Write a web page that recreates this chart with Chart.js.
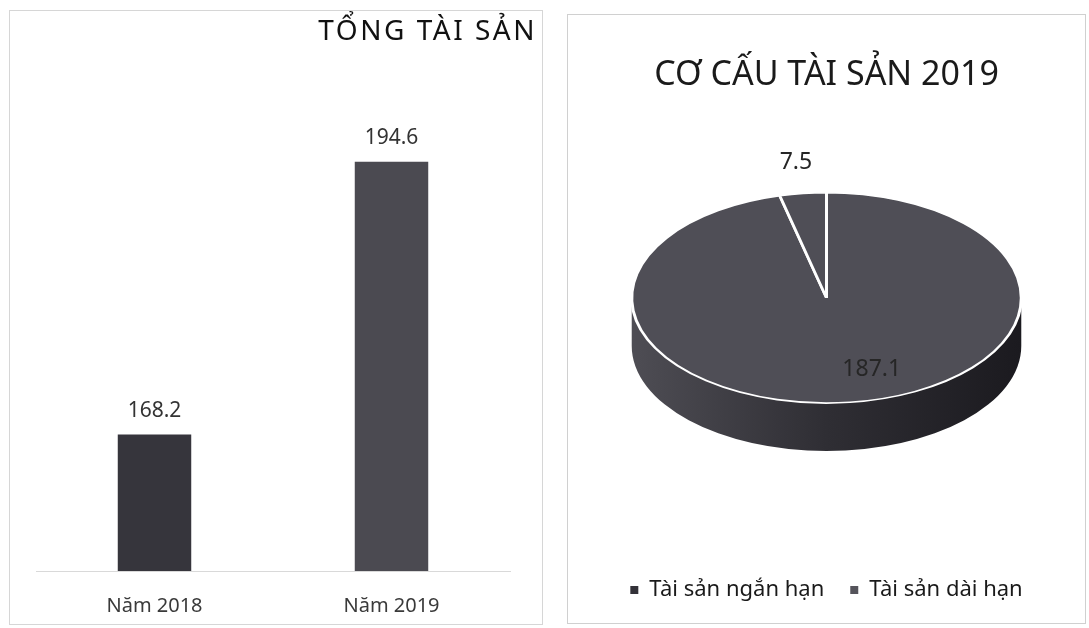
<!DOCTYPE html>
<html>
<head>
<meta charset="utf-8">
<script src="https://cdn.jsdelivr.net/npm/chart.js@4.4.0/dist/chart.umd.min.js"></script>
<style>
  html, body { margin:0; padding:0; background:#ffffff; width:1089px; height:628px; overflow:hidden; }
  #left  { position:absolute; left:9px;  top:10px; width:534px; height:615px; box-sizing:border-box; border:1px solid #d6d6d6; }
  #right { position:absolute; left:567px; top:14px; width:519px; height:610px; box-sizing:border-box; border:1px solid #d0d0d0; }
</style>
</head>
<body>
<div id="left"><canvas id="bar"></canvas></div>
<div id="right"><canvas id="pie"></canvas></div>
<script>
// ---------- data ----------
const barTitle = 'TỔNG TÀI SẢN';
const barCategories = ['Năm 2018', 'Năm 2019'];
const barValues = [168.2, 194.6];
const barAxisMin = 155;
const barAxisMax = 200;

const pieTitle = 'CƠ CẤU TÀI SẢN 2019';
const pieCategories = ['Tài sản ngắn hạn', 'Tài sản dài hạn'];
const pieValues = [187.1, 7.5];

const FONT = "'Noto Sans', 'DejaVu Sans', sans-serif";

// ---------- plugins ----------
const cornerTitle = {
  id: 'cornerTitle',
  afterDraw(chart, args, opts) {
    const ctx = chart.ctx;
    ctx.save();
    ctx.font = opts.size + 'px ' + FONT;
    if ('letterSpacing' in ctx) ctx.letterSpacing = opts.spacing + 'px';
    ctx.fillStyle = opts.color;
    ctx.textAlign = 'right';
    ctx.textBaseline = 'middle';
    ctx.fillText(opts.text, chart.width - opts.right, opts.y);
    ctx.restore();
  }
};

const barLabels = {
  id: 'barLabels',
  afterDatasetsDraw(chart, args, opts) {
    const ctx = chart.ctx;
    const meta = chart.getDatasetMeta(0);
    const vals = chart.data.datasets[0].data;
    ctx.save();
    ctx.font = opts.size + 'px ' + FONT;
    ctx.fillStyle = opts.color;
    ctx.textAlign = 'center';
    ctx.textBaseline = 'middle';
    meta.data.forEach((el, i) => ctx.fillText(vals[i].toFixed(1), el.x, el.y - opts.offset));
    ctx.restore();
  }
};

const pie3d = {
  id: 'pie3d',
  beforeDatasetsDraw(chart, args, opts) {
    const meta = chart.getDatasetMeta(0);
    const a0 = meta.data[0];
    const cx = a0.x, cy = a0.y + opts.shiftY, R = a0.outerRadius, ry = R * opts.tilt;
    const ctx = chart.ctx;
    const g = ctx.createLinearGradient(cx - R, 0, cx + R, 0);
    g.addColorStop(0, opts.sideLeft);
    g.addColorStop(0.5, opts.sideMid);
    g.addColorStop(1, opts.sideRight);
    meta.data.forEach(arc => {
      for (const k of [-1, 0, 1]) {
        const s = Math.max(arc.startAngle + k * 2 * Math.PI, 0);
        const e = Math.min(arc.endAngle + k * 2 * Math.PI, Math.PI);
        if (e > s) {
          ctx.save();
          ctx.beginPath();
          ctx.ellipse(cx, cy, R, ry, 0, s, e, false);
          ctx.ellipse(cx, cy + opts.depth, R, ry, 0, e, s, true);
          ctx.closePath();
          ctx.fillStyle = g;
          ctx.fill();
          ctx.restore();
        }
      }
    });
    ctx.save();
    ctx.translate(cx, cy);
    ctx.scale(1, opts.tilt);
    ctx.translate(-a0.x, -a0.y);
  },
  afterDatasetsDraw(chart) {
    chart.ctx.restore();
  }
};

const pieLabels = {
  id: 'pieLabels',
  afterDraw(chart, args, opts) {
    const meta = chart.getDatasetMeta(0);
    const tilt = chart.options.plugins.pie3d.tilt;
    const shiftY = chart.options.plugins.pie3d.shiftY;
    const vals = chart.data.datasets[0].data;
    const ctx = chart.ctx;
    ctx.save();
    ctx.font = opts.size + 'px ' + FONT;
    ctx.fillStyle = opts.color;
    ctx.textAlign = 'center';
    ctx.textBaseline = 'middle';
    meta.data.forEach((arc, i) => {
      const mid = (arc.startAngle + arc.endAngle) / 2;
      const f = opts.radius[i];
      const x = arc.x + Math.cos(mid) * arc.outerRadius * f + opts.dx[i];
      const y = arc.y + shiftY + Math.sin(mid) * arc.outerRadius * tilt * f;
      ctx.fillText(vals[i].toFixed(1), x, y);
    });
    ctx.restore();
  }
};

// ---------- bar chart ----------
new Chart(document.getElementById('bar'), {
  type: 'bar',
  data: {
    labels: barCategories,
    datasets: [{
      data: barValues,
      backgroundColor: ['#36353c', '#4b4a51'],
      borderWidth: 0,
      barPercentage: 0.31,
      categoryPercentage: 1.0
    }]
  },
  options: {
    responsive: true,
    maintainAspectRatio: false,
    animation: false,
    layout: { padding: { left: 26, right: 32, top: 95, bottom: 8 } },
    scales: {
      x: {
        grid: { display: false, drawTicks: false },
        border: { display: true, color: '#d9d9d9', width: 1 },
        ticks: { color: '#3a3a3a', padding: 23, maxRotation: 0, font: { family: FONT, size: 20 } },
        afterFit(scale) { scale.height = 45; }
      },
      y: {
        display: false,
        min: barAxisMin,
        max: barAxisMax
      }
    },
    plugins: {
      legend: { display: false },
      tooltip: { enabled: false },
      cornerTitle: { text: barTitle, size: 28, spacing: 2.5, color: '#111111', right: 5, y: 21 },
      barLabels: { size: 21, color: '#333333', offset: 24 }
    }
  },
  plugins: [cornerTitle, barLabels]
});

// ---------- 3D-style pie ----------
new Chart(document.getElementById('pie'), {
  type: 'pie',
  data: {
    labels: pieCategories,
    datasets: [{
      data: pieValues,
      backgroundColor: ['#4f4e56', '#4f4e56'],
      borderColor: '#ffffff',
      borderWidth: 3
    }]
  },
  options: {
    responsive: true,
    maintainAspectRatio: false,
    animation: false,
    radius: '87.5%',
    layout: { padding: { left: 0, right: 0, top: 0, bottom: 12 } },
    plugins: {
      title: {
        display: true,
        text: pieTitle,
        color: '#1a1a1a',
        font: { family: FONT, size: 34, weight: 'normal' },
        padding: { top: 40, bottom: 9 }
      },
      legend: {
        display: true,
        position: 'bottom',
        labels: {
          color: '#1a1a1a',
          font: { family: FONT, size: 22 },
          boxWidth: 8,
          boxHeight: 8,
          padding: 26,
          generateLabels(chart) {
            return Chart.overrides.pie.plugins.legend.labels.generateLabels(chart)
              .map((l, i) => Object.assign(l, { lineWidth: 0, fillStyle: i === 0 ? '#333238' : '#55545b' }));
          }
        }
      },
      tooltip: { enabled: false },
      pie3d: { tilt: 0.54, depth: 48, shiftY: -31, sideLeft: '#4e4d54', sideMid: '#2f2e34', sideRight: '#1b1a1f' },
      pieLabels: { size: 23, color: '#262626', radius: [0.69, 1.30], dx: [29, 0] }
    }
  },
  plugins: [pie3d, pieLabels]
});
</script>
</body>
</html>
